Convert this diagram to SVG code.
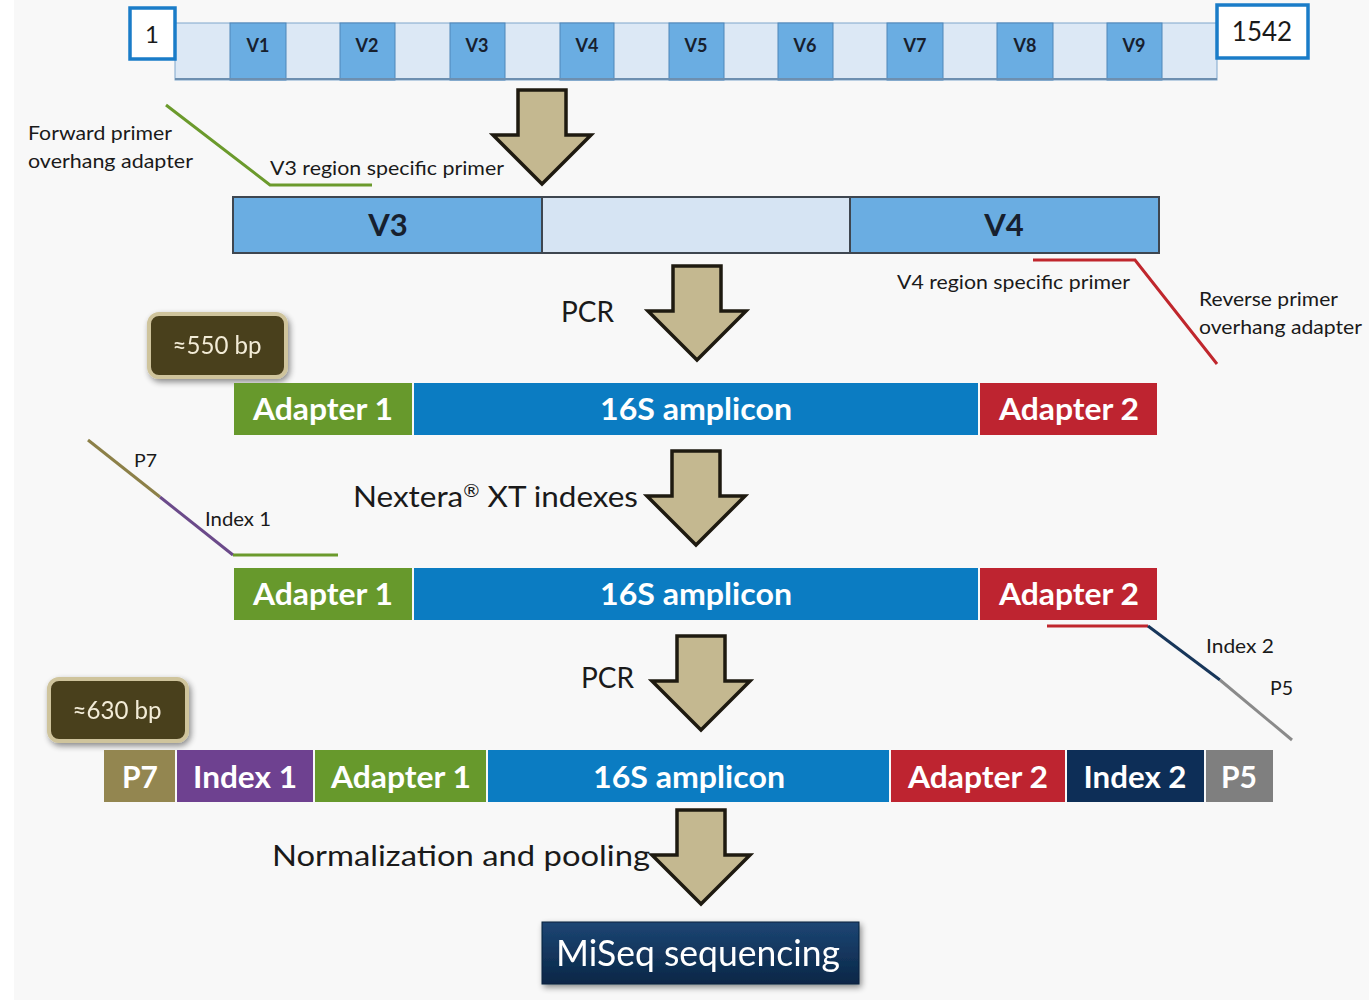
<svg xmlns="http://www.w3.org/2000/svg" width="1369" height="1002" viewBox="0 0 1369 1002">
  <defs>
    <style>
      .lbl { font-family: Lato, "Open Sans", "Liberation Sans", sans-serif; fill: #1a1a1a; }
      .reg { font-family: Lato, "Liberation Sans", sans-serif; font-weight: bold; fill: #17202e; text-anchor: middle; }
      .seg { font-family: Lato, "Liberation Sans", sans-serif; font-weight: bold; fill: #ffffff; text-anchor: middle; font-size: 30px; }
      .arrow { fill: #c4b890; stroke: #1e1a10; stroke-width: 3.5; stroke-linejoin: miter; }
      .vreg { fill: #6aade2; stroke: #4f86b8; stroke-width: 1; }
      .gap { fill: #dce8f5; stroke: #7ea6cc; stroke-width: 1; }
      .badge { fill: #4a3f1f; stroke: #cfc49c; stroke-width: 4; }
      .badgetxt { font-family: Lato, "Liberation Sans", sans-serif; fill: #f2ecd6; font-size: 25px; text-anchor: middle; }
    </style>
    <path id="bigArrow" d="M-24,0 H24 V45 H49 L0,94 L-49,45 H-24 Z"/>
    <linearGradient id="miseqFill" x1="0" y1="0" x2="0" y2="1">
      <stop offset="0" stop-color="#1d4674"/>
      <stop offset="1" stop-color="#0a2747"/>
    </linearGradient>
    <filter id="soft" x="-20%" y="-20%" width="140%" height="140%">
      <feGaussianBlur in="SourceAlpha" stdDeviation="3"/>
      <feOffset dx="2" dy="3"/>
      <feComponentTransfer><feFuncA type="linear" slope="0.45"/></feComponentTransfer>
      <feMerge><feMergeNode/><feMergeNode in="SourceGraphic"/></feMerge>
    </filter>
  </defs>

  <!-- page background -->
  <rect x="0" y="0" width="1369" height="1002" fill="#ffffff"/>
  <rect x="14" y="0" width="1355" height="1000" fill="#f8f8f8"/>

  <!-- full-length 16S gene with variable regions -->
  <g id="gene16S">
    <rect class="gap" x="175" y="23" width="1042" height="57"/>
    <rect class="vreg" x="230" y="23" width="56" height="57"/>
    <rect class="vreg" x="340" y="23" width="55" height="57"/>
    <rect class="vreg" x="450" y="23" width="55" height="57"/>
    <rect class="vreg" x="560" y="23" width="54" height="57"/>
    <rect class="vreg" x="669" y="23" width="55" height="57"/>
    <rect class="vreg" x="778" y="23" width="55" height="57"/>
    <rect class="vreg" x="887" y="23" width="56" height="57"/>
    <rect class="vreg" x="997" y="23" width="56" height="57"/>
    <rect class="vreg" x="1107" y="23" width="55" height="57"/>
    <line x1="175" y1="79" x2="1217" y2="79" stroke="#6d8fb0" stroke-width="2"/>
    <g class="reg" font-size="18">
      <text x="258" y="52">V1</text>
      <text x="367" y="52">V2</text>
      <text x="477" y="52">V3</text>
      <text x="587" y="52">V4</text>
      <text x="696" y="52">V5</text>
      <text x="805" y="52">V6</text>
      <text x="915" y="52">V7</text>
      <text x="1025" y="52">V8</text>
      <text x="1134" y="52">V9</text>
    </g>
  </g>
  <g id="pos1">
    <rect x="130" y="8" width="45" height="51" fill="#ffffff" stroke="#1a7cc8" stroke-width="3.5"/>
    <text class="lbl" x="152" y="43" font-size="24" text-anchor="middle">1</text>
  </g>
  <g id="pos1542">
    <rect x="1217" y="5" width="91" height="53" fill="#ffffff" stroke="#1a7cc8" stroke-width="3.5"/>
    <text class="lbl" x="1262" y="41" font-size="26" text-anchor="middle">1542</text>
  </g>

  <!-- V3-V4 target region -->
  <g id="v3v4">
    <rect x="233" y="197" width="926" height="56" fill="#d6e4f3" stroke="#3e4650" stroke-width="2"/>
    <rect x="233" y="197" width="309" height="56" fill="#6aade2" stroke="#3e4650" stroke-width="2"/>
    <rect x="850" y="197" width="309" height="56" fill="#6aade2" stroke="#3e4650" stroke-width="2"/>
    <text class="reg" x="388" y="236" font-size="31">V3</text>
    <text class="reg" x="1004" y="236" font-size="31">V4</text>
  </g>

  <!-- primers -->
  <g id="connectors" fill="none" stroke-width="3">
    <polyline points="166,105 270,185 372,185" stroke="#6b9a2c"/>
    <polyline points="1033,260 1135,260 1217,364" stroke="#c0272d"/>
    <line x1="88" y1="440" x2="160" y2="497" stroke="#8c8048"/>
    <line x1="160" y1="497" x2="233" y2="555" stroke="#6b4a8a"/>
    <line x1="233" y1="555" x2="338" y2="555" stroke="#6b9a2c"/>
    <line x1="1047" y1="626" x2="1148" y2="626" stroke="#c0272d"/>
    <line x1="1148" y1="626" x2="1220" y2="680" stroke="#17365a"/>
    <line x1="1220" y1="680" x2="1292" y2="740" stroke="#8a8a8a"/>
  </g>

  <g id="primerLabels" class="lbl" font-size="19">
    <text x="28" y="140" textLength="144" lengthAdjust="spacingAndGlyphs">Forward primer</text>
    <text x="28" y="168" textLength="165" lengthAdjust="spacingAndGlyphs">overhang adapter</text>
    <text x="270" y="175" textLength="234" lengthAdjust="spacingAndGlyphs">V3 region specific primer</text>
    <text x="897" y="289" textLength="233" lengthAdjust="spacingAndGlyphs">V4 region specific primer</text>
    <text x="1199" y="306" textLength="139" lengthAdjust="spacingAndGlyphs">Reverse primer</text>
    <text x="1199" y="334" textLength="163" lengthAdjust="spacingAndGlyphs">overhang adapter</text>
    <text x="134" y="467" font-size="18" textLength="23" lengthAdjust="spacingAndGlyphs">P7</text>
    <text x="205" y="526" font-size="19" textLength="66" lengthAdjust="spacingAndGlyphs">Index 1</text>
    <text x="1206" y="653" font-size="19" textLength="68" lengthAdjust="spacingAndGlyphs">Index 2</text>
    <text x="1270" y="695" font-size="19" textLength="23" lengthAdjust="spacingAndGlyphs">P5</text>
  </g>

  <!-- process arrows -->
  <g id="arrowTrim"><use href="#bigArrow" class="arrow" transform="translate(542,90)"/></g>
  <g id="arrowPcr1"><use href="#bigArrow" class="arrow" transform="translate(697,266)"/></g>
  <g id="arrowIdx"><use href="#bigArrow" class="arrow" transform="translate(696,451)"/></g>
  <g id="arrowPcr2"><use href="#bigArrow" class="arrow" transform="translate(701,636)"/></g>
  <g id="arrowPool"><use href="#bigArrow" class="arrow" transform="translate(701,810)"/></g>

  <g id="stepLabels" class="lbl">
    <text x="561" y="322" font-size="28">PCR</text>
    <text x="353" y="507" font-size="29" textLength="285" lengthAdjust="spacingAndGlyphs">Nextera<tspan font-size="18" dy="-10">®</tspan><tspan dy="10"> XT indexes</tspan></text>
    <text x="581" y="688" font-size="28">PCR</text>
    <text x="272" y="866" font-size="29" textLength="378" lengthAdjust="spacingAndGlyphs">Normalization and pooling</text>
  </g>

  <!-- amplicon sizes -->
  <g id="bp550" filter="url(#soft)">
    <rect class="badge" x="149" y="314" width="137" height="63" rx="10"/>
    <text class="badgetxt" x="217" y="354" textLength="89" lengthAdjust="spacingAndGlyphs">≈550 bp</text>
  </g>
  <g id="bp630" filter="url(#soft)">
    <rect class="badge" x="49" y="679" width="138" height="62" rx="10"/>
    <text class="badgetxt" x="117" y="719" textLength="89" lengthAdjust="spacingAndGlyphs">≈630 bp</text>
  </g>

  <!-- first-step amplicon -->
  <g id="amplicon1">
    <rect x="234" y="383" width="178" height="52" fill="#67992c"/>
    <rect x="414" y="383" width="564" height="52" fill="#0b7cc2"/>
    <rect x="980" y="383" width="177" height="52" fill="#be2430"/>
    <text class="seg" x="323" y="420" textLength="140" lengthAdjust="spacingAndGlyphs">Adapter 1</text>
    <text class="seg" x="696" y="420" textLength="192" lengthAdjust="spacingAndGlyphs">16S amplicon</text>
    <text class="seg" x="1069" y="420" textLength="140" lengthAdjust="spacingAndGlyphs">Adapter 2</text>
  </g>

  <!-- amplicon before index PCR -->
  <g id="amplicon2">
    <rect x="234" y="568" width="178" height="52" fill="#67992c"/>
    <rect x="414" y="568" width="564" height="52" fill="#0b7cc2"/>
    <rect x="980" y="568" width="177" height="52" fill="#be2430"/>
    <text class="seg" x="323" y="605" textLength="140" lengthAdjust="spacingAndGlyphs">Adapter 1</text>
    <text class="seg" x="696" y="605" textLength="192" lengthAdjust="spacingAndGlyphs">16S amplicon</text>
    <text class="seg" x="1069" y="605" textLength="140" lengthAdjust="spacingAndGlyphs">Adapter 2</text>
  </g>

  <!-- final indexed library -->
  <g id="library">
    <rect x="104" y="750" width="71" height="52" fill="#938650"/>
    <rect x="177" y="750" width="136" height="52" fill="#6e4190"/>
    <rect x="315" y="750" width="171" height="52" fill="#67992c"/>
    <rect x="488" y="750" width="401" height="52" fill="#0b7cc2"/>
    <rect x="891" y="750" width="174" height="52" fill="#be2430"/>
    <rect x="1067" y="750" width="137" height="52" fill="#0d2e57"/>
    <rect x="1206" y="750" width="67" height="52" fill="#7f7f7f"/>
    <text class="seg" x="140" y="788">P7</text>
    <text class="seg" x="245" y="788" textLength="104" lengthAdjust="spacingAndGlyphs">Index 1</text>
    <text class="seg" x="401" y="788" textLength="140" lengthAdjust="spacingAndGlyphs">Adapter 1</text>
    <text class="seg" x="689" y="788" textLength="192" lengthAdjust="spacingAndGlyphs">16S amplicon</text>
    <text class="seg" x="978" y="788" textLength="140" lengthAdjust="spacingAndGlyphs">Adapter 2</text>
    <text class="seg" x="1135" y="788" textLength="103" lengthAdjust="spacingAndGlyphs">Index 2</text>
    <text class="seg" x="1239" y="788">P5</text>
  </g>

  <!-- sequencing -->
  <g id="miseq" filter="url(#soft)">
    <rect x="542" y="922" width="317" height="62" fill="url(#miseqFill)" stroke="#08203c" stroke-width="1"/>
    <text x="698" y="966" font-family="Lato, 'Liberation Sans', sans-serif" font-size="36" fill="#ffffff" text-anchor="middle" textLength="284" lengthAdjust="spacingAndGlyphs">MiSeq sequencing</text>
  </g>
</svg>
